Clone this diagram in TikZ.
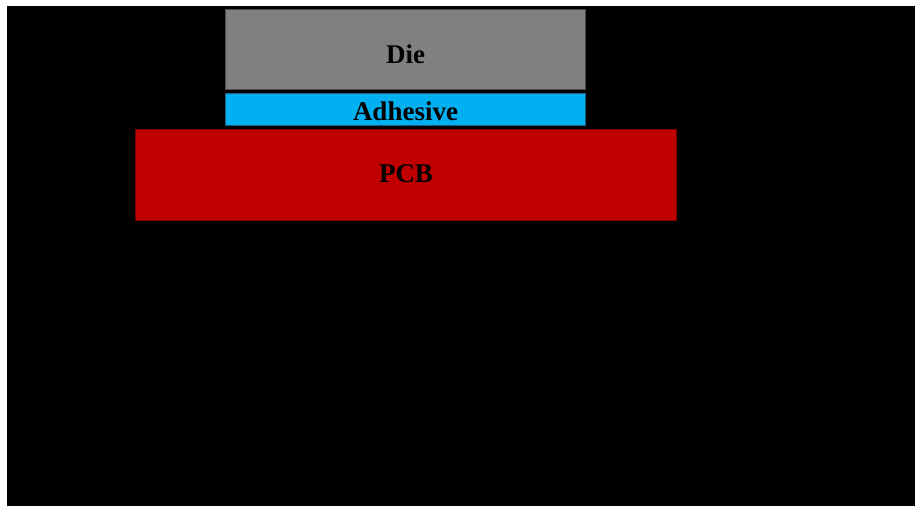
\documentclass[tikz,border=0pt]{standalone}
\usepackage{fontspec}
\setmainfont{Liberation Serif}
\definecolor{diegray}{HTML}{808080}
\definecolor{diegrayedge}{HTML}{4A4A4A}
\definecolor{adhblue}{HTML}{00B0F0}
\definecolor{adhblueedge}{HTML}{1F5A80}
\definecolor{pcbred}{HTML}{C00000}
\definecolor{pcbrededge}{HTML}{7A0000}
\begin{document}
\begin{tikzpicture}[x=1pt,y=-1pt,
  layer/.style={rectangle, inner sep=0pt, line width=1pt},
  layerlabel/.style={font=\fontsize{27}{30}\selectfont\bfseries, text=black}]
  % page and dark backdrop
  \useasboundingbox (0,0) rectangle (915,506);
  \fill[white] (0,0) rectangle (915,506);
  \fill[black] (7,6) rectangle (915,506);
  % stack of layers
  \node[layer, fill=diegray, draw=diegrayedge,
        minimum width=360pt, minimum height=80pt] (die) at (405,49.5) {};
  \node[layerlabel] (dielabel) at (405.5,54) {Die};
  \node[layer, fill=adhblue, draw=adhblueedge,
        minimum width=360pt, minimum height=32pt] (adh) at (405,109.5) {};
  \node[layerlabel] (adhlabel) at (405.5,111) {Adhesive};
  \node[layer, fill=pcbred, draw=pcbrededge,
        minimum width=541pt, minimum height=91pt] (pcb) at (405.5,175) {};
  \node[layerlabel] (pcblabel) at (406,174) {PCB};
\end{tikzpicture}
\end{document}
